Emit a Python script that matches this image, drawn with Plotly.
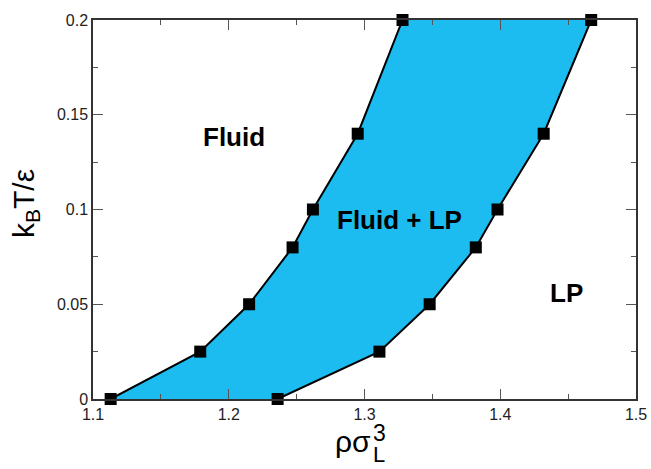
import plotly.graph_objects as go

# Phase boundaries: temperature vs density
temperature = [0.0, 0.025, 0.05, 0.08, 0.1, 0.14, 0.2]
density_fluid_side = [1.113, 1.179, 1.215, 1.247, 1.262, 1.295, 1.328]
density_lp_side = [1.236, 1.311, 1.348, 1.382, 1.398, 1.432, 1.467]

x_ticks = [1.1, 1.2, 1.3, 1.4, 1.5]
x_tick_text = ["1.1", "1.2", "1.3", "1.4", "1.5"]
y_ticks = [0, 0.05, 0.1, 0.15, 0.2]
y_tick_text = ["0", "0.05", "0.1", "0.15", "0.2"]

region_labels = ["Fluid", "Fluid + LP", "LP"]
region_x = [1.204, 1.326, 1.4485]
region_y = [0.138, 0.0945, 0.056]

FONT = "Liberation Sans, Arial, Helvetica, sans-serif"
FILL = "rgb(28,187,240)"

# plot-area geometry in pixels
W, H = 651, 469
L, R, T, B = 93, 15, 20, 70
PW, PH = W - L - R, H - T - B


def px(x):
    return (x - L) / PW


def py(y):
    return (H - B - y) / PH


fig = go.Figure()

# coexistence region polygon
fig.add_trace(go.Scatter(
    x=density_fluid_side + density_lp_side[::-1],
    y=temperature + temperature[::-1],
    fill="toself", fillcolor=FILL, mode="none", hoverinfo="skip",
))

for xs in (density_fluid_side, density_lp_side):
    fig.add_trace(go.Scatter(
        x=xs, y=temperature, mode="lines+markers",
        line=dict(color="black", width=2),
        marker=dict(symbol="square", size=12, color="black"),
        cliponaxis=False,
    ))

axis_common = dict(
    showline=True, linecolor="#333", linewidth=1.5, mirror="allticks",
    ticks="inside", ticklen=10, tickwidth=1.2, tickcolor="#555",
    showgrid=False, zeroline=False, automargin=False,
    tickfont=dict(family=FONT, size=16, color="#222"),
)

fig.update_xaxes(
    range=[1.1, 1.5], tickvals=x_ticks, ticktext=x_tick_text,
    minor=dict(ticks="inside", ticklen=5, tickwidth=1.2, tickcolor="#555", dtick=0.05, tick0=1.1),
    **axis_common,
)
fig.update_yaxes(
    range=[0, 0.2], tickvals=y_ticks, ticktext=y_tick_text,
    minor=dict(ticks="inside", ticklen=5, tickwidth=1.2, tickcolor="#555", dtick=0.025, tick0=0),
    **axis_common,
)

annotations = []
for t, x, y in zip(region_labels, region_x, region_y):
    annotations.append(dict(
        x=x, y=y, xref="x", yref="y", text="<b>%s</b>" % t, showarrow=False,
        font=dict(family=FONT, size=26, color="black"),
    ))

# y axis title
annotations.append(dict(
    x=px(25), y=py(203), xref="paper", yref="paper", text="k<sub>B</sub>T/ε",
    textangle=-90, showarrow=False, xanchor="center", yanchor="middle",
    font=dict(family=FONT, size=30, color="black"),
))
# x axis title: ρσ with stacked sub/superscript
annotations.append(dict(
    x=px(373), y=py(441), xref="paper", yref="paper", text="ρσ",
    showarrow=False, xanchor="right", yanchor="middle",
    font=dict(family=FONT, size=30, color="black"),
))
annotations.append(dict(
    x=px(371), y=py(433), xref="paper", yref="paper", text="3",
    showarrow=False, xanchor="left", yanchor="middle",
    font=dict(family=FONT, size=23, color="black"),
))
annotations.append(dict(
    x=px(371), y=py(H), xref="paper", yref="paper", text="L",
    showarrow=False, xanchor="left", yanchor="bottom",
    font=dict(family=FONT, size=22, color="black"),
))

fig.update_layout(
    width=W, height=H,
    margin=dict(l=L, r=R, t=T, b=B),
    plot_bgcolor="white", paper_bgcolor="white",
    showlegend=False, annotations=annotations,
)

fig.write_html("out.html")
